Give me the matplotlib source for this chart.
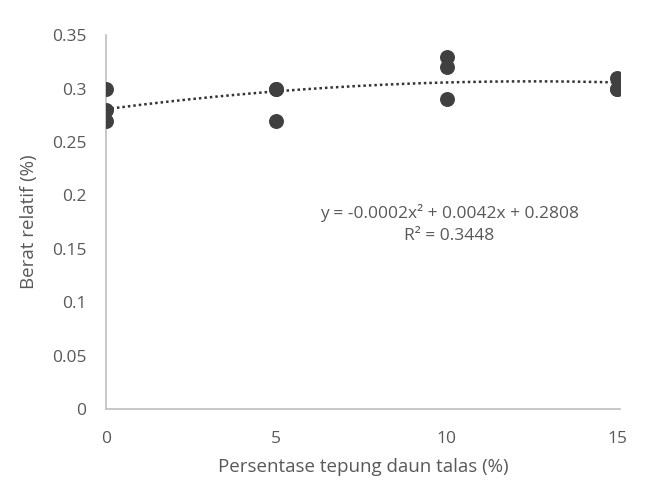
import numpy as np
import matplotlib
matplotlib.use("Agg")
import matplotlib.pyplot as plt

plt.rcParams['font.family'] = ['Open Sans', 'DejaVu Sans']

# Data
x_vals = [0, 0, 0, 5, 5, 5, 10, 10, 10, 15, 15, 15]
y_vals = [0.30, 0.28, 0.27, 0.30, 0.30, 0.27, 0.33, 0.32, 0.29, 0.31, 0.30, 0.30]
x_ticks = [0, 5, 10, 15]
y_ticks = [0, 0.05, 0.1, 0.15, 0.2, 0.25, 0.3, 0.35]
y_tick_labels = ["0", "0.05", "0.1", "0.15", "0.2", "0.25", "0.3", "0.35"]
eq_text = "y = -0.0002x² + 0.0042x + 0.2808\nR² = 0.3448"

grey = "#595959"
fig = plt.figure(figsize=(6.56, 4.95), dpi=100)
ax = fig.add_axes([0.1616, 0.1737, 0.783, 0.755])

ax.scatter(x_vals, y_vals, s=95, color="#404040", zorder=3, edgecolors="#404040")

coef = np.polyfit(x_vals, y_vals, 2)
xs = np.linspace(0, 15, 200)
ax.plot(xs, np.polyval(coef, xs), linestyle=(0, (1, 1.2)), color="#333333", lw=1.8, zorder=2)

ax.set_xlim(0, 15.08)
ax.set_ylim(0, 0.35)
ax.set_xticks(x_ticks)
ax.set_yticks(y_ticks)
ax.set_yticklabels(y_tick_labels)
ax.tick_params(length=0, labelsize=12.5, colors=grey)
ax.tick_params(axis='y', pad=14)
ax.tick_params(axis='x', pad=16)
for s in ['top', 'right']:
    ax.spines[s].set_visible(False)
for s in ['left', 'bottom']:
    ax.spines[s].set_color("#bfbfbf")
    ax.spines[s].set_linewidth(1.2)

ax.set_xlabel("Persentase tepung daun talas (%)", fontsize=13.5, color=grey, labelpad=8)
ax.set_ylabel("Berat relatif (%)", fontsize=13.5, color=grey, labelpad=10)

ax.text(0.668, 0.495, eq_text, transform=ax.transAxes, ha='center', va='center',
        fontsize=12.5, color=grey, linespacing=1.45)

fig.savefig("out.png", dpi=100)
